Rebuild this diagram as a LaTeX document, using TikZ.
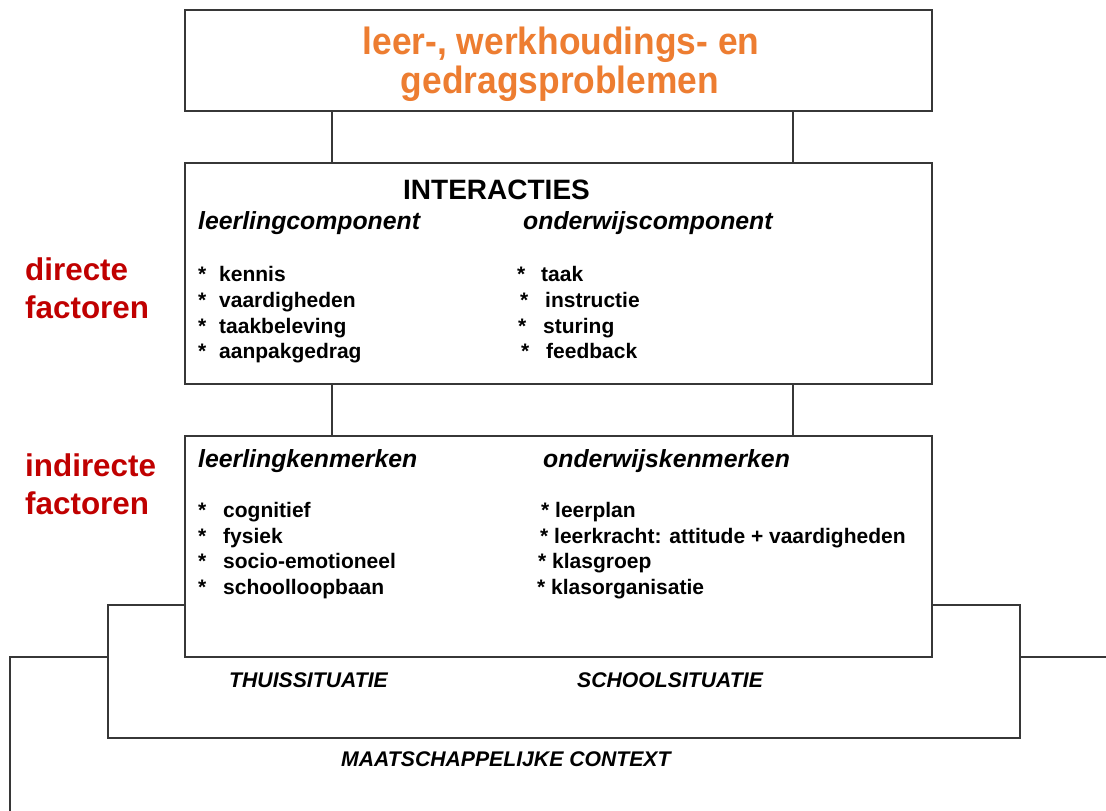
\documentclass[tikz,border=0pt]{standalone}
\usepackage{fontspec}
\setmainfont{Liberation Sans}
\definecolor{titleorange}{RGB}{237,125,49}
\definecolor{factred}{RGB}{192,0,0}
\definecolor{linegray}{RGB}{55,55,55}
\newcommand\bul[2]{\makebox[#1][l]{*}#2}
\newcommand\narrowtxt[1]{\scalebox{0.93}[1]{#1}}
\begin{document}
\begin{tikzpicture}[x=1pt,y=-1pt,
  frame/.style={draw=linegray,line width=1.4pt},
  box/.style={frame,fill=white,inner sep=0pt,minimum width=747pt},
  conn/.style={draw=linegray,line width=1.3pt},
  txt/.style={inner sep=0pt,anchor=base west},
  titletxt/.style={inner sep=0pt,anchor=base,text=titleorange,font=\fontsize{38}{40}\selectfont\bfseries},
  factor/.style={txt,text=factred,font=\fontsize{31.4}{36}\selectfont\bfseries},
  head/.style={txt,font=\fontsize{28}{32}\selectfont\bfseries},
  sub/.style={txt,font=\fontsize{24.8}{28}\selectfont\bfseries\itshape},
  item/.style={txt,font=\fontsize{21}{25}\selectfont\bfseries},
  ctx/.style={txt,font=\fontsize{21.2}{24}\selectfont\bfseries\itshape}]
\useasboundingbox[fill=white] (0,0) rectangle (1106,811);

% context frames
\coordinate (sl) at (108,605);
\coordinate (sr) at (1020,605);
\coordinate (sbl) at (108,738);
\coordinate (sbr) at (1020,738);
\coordinate (ml) at (10,657);
\coordinate (mb) at (10,811);
\coordinate (mr) at (1106,657);
\draw[frame] (185,605) -- (sl) -- (sbl) -- (sbr) -- (sr) -- (932,605);
\draw[frame] (108,657) -- (ml) -- (mb);
\draw[frame] (1020,657) -- (mr);

% boxes
\node[box,minimum height=101pt] (prob) at (558.5,60.5) {};
\node[box,minimum height=221pt] (inter) at (558.5,273.5) {};
\node[box,minimum height=221pt] (kenm) at (558.5,546.5) {};

% connectors
\coordinate (c1) at (332,0);
\coordinate (c2) at (793,0);
\draw[conn] (prob.south -| c1) -- (inter.north -| c1);
\draw[conn] (prob.south -| c2) -- (inter.north -| c2);
\draw[conn] (inter.south -| c1) -- (kenm.north -| c1);
\draw[conn] (inter.south -| c2) -- (kenm.north -| c2);

% title
\node[titletxt] (t1) at (561,54) {\narrowtxt{leer-, werkhoudings- en}};
\node[titletxt] (t2) at (560,93) {\narrowtxt{gedragsproblemen}};

% factors
\node[factor] (f1) at (25,280) {directe};
\node[factor] (f2) at (25,318) {factoren};
\node[factor] (f3) at (25,476) {indirecte};
\node[factor] (f4) at (25,514) {factoren};

% interacties
\node[head] (ih) at (403,199) {INTERACTIES};
\node[sub] (lc) at (198,229) {leerlingcomponent};
\node[sub] (oc) at (523,229) {onderwijscomponent};
\node[item] (a1) at (198,281) {\bul{21pt}{kennis}};
\node[item] (a2) at (198,307) {\bul{21pt}{vaardigheden}};
\node[item] (a3) at (198,333) {\bul{21pt}{taakbeleving}};
\node[item] (a4) at (198,358) {\bul{21pt}{aanpakgedrag}};
\node[item] (b1) at (517,281) {\bul{24pt}{taak}};
\node[item] (b2) at (520,307) {\bul{25pt}{instructie}};
\node[item] (b3) at (518,333) {\bul{25pt}{sturing}};
\node[item] (b4) at (521,358) {\bul{25pt}{feedback}};

% kenmerken
\node[sub] (lk) at (198,467) {leerlingkenmerken};
\node[sub] (ok) at (543,467) {onderwijskenmerken};
\node[item] (c1t) at (198,517) {\bul{25pt}{cognitief}};
\node[item] (c2t) at (198,543) {\bul{25pt}{fysiek}};
\node[item] (c3t) at (198,568) {\bul{25pt}{socio-emotioneel}};
\node[item] (c4t) at (198,594) {\bul{25pt}{schoolloopbaan}};
\node[item] (d1) at (541,517) {* leerplan};
\node[item] (d2) at (540,543) {* leerkracht: attitude + vaardigheden};
\node[item] (d3) at (538,568) {* klasgroep};
\node[item] (d4) at (537,594) {* klasorganisatie};

% context labels
\node[ctx] (thuis) at (229,687) {THUISSITUATIE};
\node[ctx] (school) at (577,687) {SCHOOLSITUATIE};
\node[ctx] (maat) at (341,766) {MAATSCHAPPELIJKE CONTEXT};
\end{tikzpicture}
\end{document}
